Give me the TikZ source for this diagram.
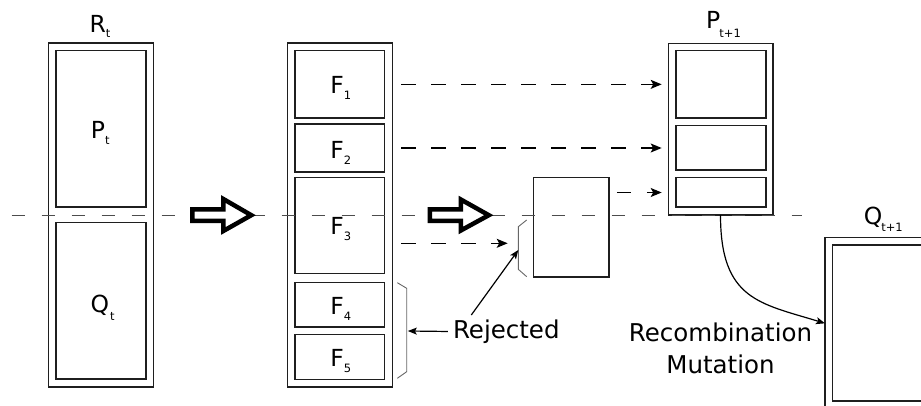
\documentclass[tikz,border=0pt]{standalone}
\usepackage{fontspec}
\setmainfont{DejaVu Sans}
\usetikzlibrary{arrows.meta,calc}
\newcommand\lsub[2][6pt]{\raisebox{-#1}{\fontsize{11.5}{12}\selectfont #2}}
\begin{document}
\begin{tikzpicture}[x=1pt,y=-1pt,
  box/.style={draw=black!88, line width=1.6pt, inner sep=0pt, outer sep=0pt},
  lbl/.style={inner sep=0pt, anchor=base, font=\fontsize{23.5}{28}\selectfont},
  txt/.style={inner sep=0pt, anchor=base, font=\fontsize{24.5}{30}\selectfont},
  flow/.style={line width=1.3pt, dash pattern=on 14.5pt off 15.5pt, -{Stealth[length=11pt,width=9pt,inset=2.5pt]}},
  guide/.style={line width=0.9pt, draw=black!70, dash pattern=on 13pt off 17pt},
  bracket/.style={line width=0.9pt, draw=black!60},
  hollow/.style={line width=4.5pt, fill=white, line join=miter, miter limit=10},
  pointer/.style={line width=1.2pt, -{Stealth[length=9pt,width=7pt,inset=2pt]}}
]
\useasboundingbox (0,0) rectangle (921,406);
\clip (0,0) rectangle (921,406);

% R_t
\node[box, minimum width=105pt, minimum height=343.4pt] (Ro) at (100.8,215) {};
\node[box, minimum width=90pt, minimum height=156.6pt] (Pt) at (100.7,129) {};
\node[box, minimum width=90pt, minimum height=156.7pt] (Qt) at (100.7,300.7) {};
\node[lbl] (RtL) at (100,32.3) {R\lsub[5pt]{t}};
\node[lbl] (PtL) at (100.3,138.3) {P\lsub[6pt]{t}};
\node[lbl] (QtL) at (102.7,312) {Q\kern1pt\lsub[9pt]{t}};

% F column
\node[box, minimum width=105pt, minimum height=343.4pt] (Fo) at (339.8,215) {};
\node[box, minimum width=89.3pt, minimum height=67.3pt] (F1) at (339.7,84.35) {};
\node[box, minimum width=89.3pt, minimum height=48pt] (F2) at (339.7,148) {};
\node[box, minimum width=89.3pt, minimum height=95.6pt] (F3) at (339.7,225.5) {};
\node[box, minimum width=89.3pt, minimum height=44.4pt] (F4) at (339.7,304.5) {};
\node[box, minimum width=89.3pt, minimum height=45pt] (F5) at (339.7,356.8) {};
\node[lbl] (F1L) at (340.7,93.3) {F\lsub[6pt]{1}};
\node[lbl] (F2L) at (340.7,158.3) {F\lsub[6pt]{2}};
\node[lbl] (F3L) at (340.7,234) {F\lsub[6pt]{3}};
\node[lbl] (F4L) at (340.7,314) {F\lsub[6pt]{4}};
\node[lbl] (F5L) at (340.7,366.7) {F\lsub[6pt]{5}};

% small box
\node[box, minimum width=75.7pt, minimum height=99pt] (S) at (571.2,227.2) {};

% P_{t+1}
\node[box, minimum width=104.4pt, minimum height=171.7pt] (Po) at (720.5,129.2) {};
\node[box, minimum width=90pt, minimum height=67.3pt] (Pi1) at (720.7,84.35) {};
\node[box, minimum width=90pt, minimum height=44.3pt] (Pi2) at (720.7,147.85) {};
\node[box, minimum width=90pt, minimum height=29.6pt] (Pi3) at (720.7,192.5) {};
\node[lbl] (PnL) at (723.5,28.3) {P\kern-1pt\lsub[9pt]{t+1}};

% Q_{t+1}
\node[box, minimum width=110pt, minimum height=171.3pt] (Qo) at (880,323.35) {};
\node[box, minimum width=95.7pt, minimum height=156pt] (Qi) at (880.15,323) {};
\node[lbl] (QnL) at (883.3,224.5) {Q\kern-1pt\lsub[7pt]{t+1}};

% dashed guide line
\draw[guide] (11.7,215) -- (802,215);

% hollow arrows
\draw[hollow] (192.3,209.5) -- (223.3,209.5) -- (223.3,199) -- (251.3,215.2)
  -- (223.3,231) -- (223.3,221) -- (192.3,221) -- cycle;
\begin{scope}[xshift=237.5pt]
\draw[hollow] (192.3,209.5) -- (223.3,209.5) -- (223.3,199.5) -- (251.3,215.2)
  -- (223.3,230.5) -- (223.3,221) -- (192.3,221) -- cycle;
\end{scope}

% flow arrows
\draw[flow, shorten <=8.7pt, shorten >=6.6pt] (Fo.east |- F1.east) -- (Po.west |- F1.east);
\draw[flow, shorten <=8.7pt, shorten >=6.6pt] (Fo.east |- F2.east) -- (Po.west |- F2.east);
\coordinate (f3s) at ($(Fo.east |- F3.center)+(8.7,17.8)$);
\coordinate (f3e) at (507.7,243.3);
\draw[flow] (f3s) -- (f3e);
\draw[flow, shorten <=7.7pt, shorten >=6.6pt] (S.east |- Pi3.east) -- (Po.west |- Pi3.east);

% brackets
\draw[bracket] (526.7,220) -- (518.3,226.7) -- (518.3,269.3) -- (526.7,276.7);
\coordinate (b1) at (518.3,250);
\draw[bracket] (397.3,282.7) -- (406.7,288.3) -- (406.7,371.7) -- (397.3,378.3);
\coordinate (b2) at (407.8,331);

% Rejected
\node[txt] (rej) at (506.3,338.3) {Rejected};
\draw[pointer, shorten <=5pt] (rej.west) -- (b2);
\draw[pointer] ([xshift=18.5pt,yshift=4.5pt]rej.north west) -- (b1);

% Recombination / Mutation
\node[txt] (rec) at (720.5,341.7) {Recombination};
\node[txt] (mut) at (720.5,373.3) {Mutation};
\draw[pointer] (Po.south) .. controls +(0,85) and +(-65,-20) .. (Qo.west);
\end{tikzpicture}
\end{document}
